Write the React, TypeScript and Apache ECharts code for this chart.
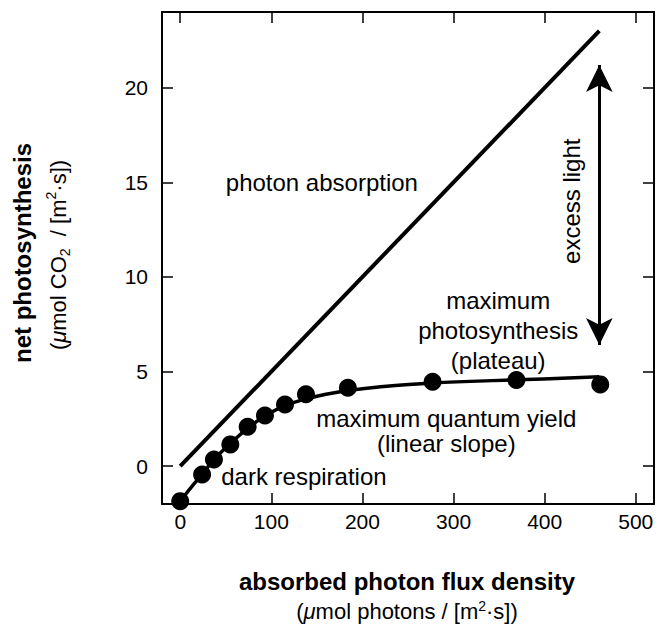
import React, { useEffect, useRef } from "react";
import * as echarts from "echarts";

// Photon absorption (straight line)
const absorptionX = [0, 460];
const absorptionY = [0, 23];

// Measured net photosynthesis points
const measuredX = [0, 24, 37, 55, 74, 93, 115, 138, 184, 277, 369, 461];
const measuredY = [-1.85, -0.44, 0.35, 1.15, 2.08, 2.68, 3.26, 3.8, 4.14, 4.46, 4.55, 4.32];

// Fitted light-response curve
const curveX = [0, 12, 24, 37, 55, 74, 93, 115, 138, 160, 184, 220, 277, 369, 460];
const curveY = [-1.85, -1.12, -0.44, 0.35, 1.2, 2.0, 2.65, 3.2, 3.55, 3.8, 4.0, 4.2, 4.4, 4.56, 4.72];

// Excess-light double arrow (x, y from, y to)
const arrowX = 460;
const arrowYTop = 21.2;
const arrowYBottom = 6.4;

// Tick values
const xTicks = [0, 100, 200, 300, 400, 500];
const yTicks = [0, 5, 10, 15, 20];

// Annotations in data coordinates
const annotations = [
  { text: "photon absorption", x: 50, y: 15.0, align: "left", rotate: 0, lh: 28 },
  { text: "dark respiration", x: 45, y: -0.57, align: "left", rotate: 0, lh: 28 },
  { text: "maximum quantum yield\n(linear slope)", x: 292, y: 1.88, align: "center", rotate: 0, lh: 25 },
  { text: "maximum\nphotosynthesis\n(plateau)", x: 349, y: 7.19, align: "center", rotate: 0, lh: 30 },
  { text: "excess light", x: 429.7, y: 14.0, align: "center", rotate: 90, lh: 28 },
];

const FONT = "'Liberation Sans', Arial, Helvetica, sans-serif";

export default function App() {
  const ref = useRef<HTMLDivElement>(null);
  useEffect(() => {
    if (!ref.current) return;
    const chart = echarts.init(ref.current, null, { renderer: "svg" });
    const axisCommon = {
      type: "value" as const,
      axisLine: { show: true, onZero: false, lineStyle: { color: "#000", width: 2 } },
      splitLine: { show: false },
    };
    const option: any = {
      animation: false,
      backgroundColor: "#fff",
      grid: { left: 162, right: 4, top: 12, bottom: 121, containLabel: false },
      xAxis: [
        {
          ...axisCommon,
          position: "bottom",
          min: -20,
          max: 520,
          axisTick: { show: true, inside: true, length: 11, customValues: xTicks, lineStyle: { color: "#000", width: 1.5 } },
          axisLabel: { show: true, customValues: xTicks, margin: 7, fontSize: 21, color: "#000", fontFamily: FONT },
        },
        {
          ...axisCommon,
          position: "top",
          min: -20,
          max: 520,
          axisTick: { show: true, inside: true, length: 11, customValues: xTicks, lineStyle: { color: "#000", width: 1.5 } },
          axisLabel: { show: false },
        },
      ],
      yAxis: [
        {
          ...axisCommon,
          position: "left",
          min: -2,
          max: 24,
          axisTick: { show: true, inside: true, length: 11, customValues: yTicks, lineStyle: { color: "#000", width: 1.5 } },
          axisLabel: { show: true, customValues: yTicks, margin: 14, fontSize: 21, color: "#000", fontFamily: FONT },
        },
        {
          ...axisCommon,
          position: "right",
          min: -2,
          max: 24,
          axisTick: { show: true, inside: true, length: 11, customValues: yTicks, lineStyle: { color: "#000", width: 1.5 } },
          axisLabel: { show: false },
        },
      ],
      series: [
        {
          type: "line",
          name: "photon absorption",
          data: absorptionX.map((x, i) => [x, absorptionY[i]]),
          symbol: "none",
          lineStyle: { color: "#000", width: 4 },
          z: 3,
          markLine: {
            silent: true,
            symbol: ["arrow", "arrow"],
            symbolSize: [20, 27],
            label: { show: false },
            lineStyle: { color: "#000", width: 3, type: "solid" },
            itemStyle: { color: "#000" },
            data: [[{ coord: [arrowX, arrowYTop] }, { coord: [arrowX, arrowYBottom] }]],
          },
        },
        {
          type: "line",
          name: "fit",
          data: curveX.map((x, i) => [x, curveY[i]]),
          symbol: "none",
          smooth: 0.4,
          lineStyle: { color: "#000", width: 3.5 },
          z: 3,
        },
        {
          type: "scatter",
          name: "measured",
          data: measuredX.map((x, i) => [x, measuredY[i]]),
          symbol: "circle",
          symbolSize: 18,
          itemStyle: { color: "#000", opacity: 1 },
          z: 4,
        },
      ],
    };
    chart.setOption(option);

    const graphics: any[] = annotations.map((a) => {
      const [px, py] = chart.convertToPixel({ gridIndex: 0 }, [a.x, a.y]) as number[];
      return {
        type: "text",
        x: px,
        y: py,
        rotation: (a.rotate * Math.PI) / 180,
        style: {
          text: a.text,
          fontSize: 24,
          fontFamily: FONT,
          fill: "#000",
          align: a.align,
          verticalAlign: "middle",
          lineHeight: a.lh,
        },
      };
    });

    const subRich = {
      it: { fontSize: 22, fontStyle: "italic", fontFamily: FONT, fill: "#000", lineHeight: 22 },
      sup: { fontSize: 14, fontFamily: FONT, fill: "#000", verticalAlign: "top", lineHeight: 10 },
      sub: { fontSize: 14, fontFamily: FONT, fill: "#000", verticalAlign: "bottom", lineHeight: 10 },
    };

    graphics.push(
      {
        type: "text",
        x: 407,
        y: 581,
        style: {
          text: "absorbed photon flux density",
          fontSize: 24,
          fontWeight: "bold",
          fontFamily: FONT,
          fill: "#000",
          align: "center",
          verticalAlign: "middle",
        },
      },
      {
        type: "text",
        x: 407,
        y: 611.5,
        style: {
          text: "({it|μ}mol photons / [m{sup|2}·s])",
          fontSize: 22,
          fontFamily: FONT,
          fill: "#000",
          align: "center",
          verticalAlign: "middle",
          lineHeight: 26,
          rich: subRich,
        },
      },
      {
        type: "text",
        x: 22,
        y: 253,
        rotation: Math.PI / 2,
        style: {
          text: "net photosynthesis",
          fontSize: 24,
          fontWeight: "bold",
          fontFamily: FONT,
          fill: "#000",
          align: "center",
          verticalAlign: "middle",
        },
      },
      {
        type: "text",
        x: 58,
        y: 255,
        rotation: Math.PI / 2,
        style: {
          text: "({it|μ}mol CO{sub|2}  / [m{sup|2}·s])",
          fontSize: 22,
          fontFamily: FONT,
          fill: "#000",
          align: "center",
          verticalAlign: "middle",
          lineHeight: 28,
          rich: subRich,
        },
      }
    );

    chart.setOption({ graphic: graphics });
    return () => chart.dispose();
  }, []);

  return (
    <div
      ref={ref}
      style={{ position: "fixed", left: 0, top: 0, width: 658, height: 625, background: "#fff" }}
    />
  );
}
